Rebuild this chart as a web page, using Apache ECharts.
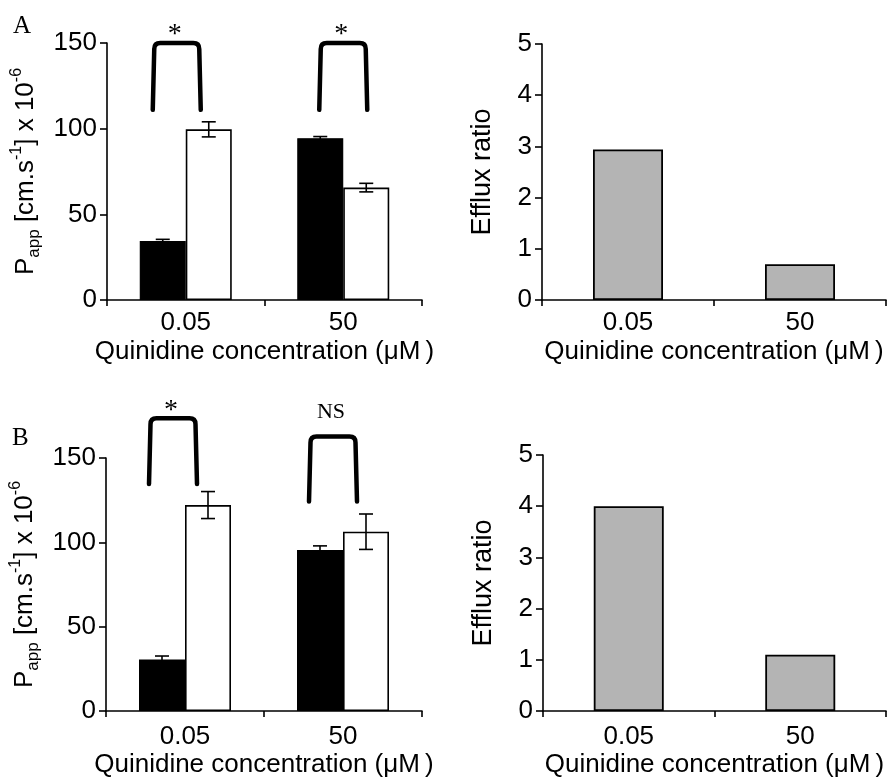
<!DOCTYPE html>
<html>
<head>
<meta charset="utf-8">
<script src="https://cdn.jsdelivr.net/npm/echarts@6/dist/echarts.min.js"></script>
<style>html,body{margin:0;padding:0;background:#fff;}#c{width:889px;height:779px;}</style>
</head>
<body>
<div id="c"></div>
<script>
// ---- data ----
var categories = ['0.05', '50'];
var panelA_black = [34.4, 94.4];
var panelA_blackErr = [1.0, 1.0];
var panelA_white = [99.6, 65.6];
var panelA_whiteErr = [4.4, 2.5];
var panelA_ratio = [2.94, 0.70];
var panelB_black = [30.6, 95.4];
var panelB_blackErr = [2.0, 2.5];
var panelB_white = [122.1, 106.3];
var panelB_whiteErr = [8.0, 10.5];
var panelB_ratio = [4.0, 1.1];
// significance brackets: [category index, lower level, upper level, label]
var panelA_brackets = [[0, 111, 150, '*'], [1, 111, 150, '*']];
var panelB_brackets = [[0, 134.6, 173.6, '*'], [1, 124.2, 162.7, 'NS']];
var pappTicks = {min: 0, max: 150, interval: 50};
var ratioTicks = {min: 0, max: 5, interval: 1};
var xName = 'Quinidine concentration (\u03BCM\u2009)';

// ---- style ----
var SANS = '"Liberation Sans", Arial, "Noto Sans CJK SC", sans-serif';
var SERIF = '"Liberation Serif", "Times New Roman", serif';
var BAR_W = 46, RATIO_W = 70;
var panelA_shift = [-9, 0];
var panelB_shift = [-12, -10];

function withIdx(vals, errs) {
  return vals.map(function (v, i) { return [i, v, errs[i]]; });
}

function errRender(offset) {
  return function (params, api) {
    var i = api.value(0), v = api.value(1), e = api.value(2);
    var hi = api.coord([i, v + e]);
    var lo = api.coord([i, v - e]);
    var x = hi[0] + offset, cw = 7;
    var st = {stroke: '#000', lineWidth: 1.6};
    return {type: 'group', children: [
      {type: 'line', shape: {x1: x, y1: hi[1], x2: x, y2: lo[1]}, style: st},
      {type: 'line', shape: {x1: x - cw, y1: hi[1], x2: x + cw, y2: hi[1]}, style: st},
      {type: 'line', shape: {x1: x - cw, y1: lo[1], x2: x + cw, y2: lo[1]}, style: st}
    ]};
  };
}

function bracketRender(items, shifts) {
  return function (params, api) {
    var i = api.value(0);
    var b = api.coord([i, api.value(1)]);
    var t = api.coord([i, api.value(2)]);
    var cx = b[0] + shifts[params.dataIndex];
    var hw = 24, r = 6;
    var x1 = cx - hw, x2 = cx + hw, yb = b[1], yt = t[1];
    var d = 'M' + x1 + ' ' + yb + ' L' + (x1 + 1.5) + ' ' + (yt + r) +
      ' Q' + (x1 + 1.5) + ' ' + yt + ' ' + (x1 + 1.5 + r) + ' ' + yt +
      ' L' + (x2 - 1.5 - r) + ' ' + yt +
      ' Q' + (x2 - 1.5) + ' ' + yt + ' ' + (x2 - 1.5) + ' ' + (yt + r) +
      ' L' + x2 + ' ' + yb;
    var label = items[params.dataIndex][3];
    var star = label === '*';
    return {type: 'group', children: [
      {type: 'path', shape: {pathData: d}, style: {fill: 'none', stroke: '#000', lineWidth: 4.5, lineCap: 'round', lineJoin: 'round'}},
      {type: 'text', x: cx - 2, y: yt - (star ? 8 : 24), style: {text: label, font: (star ? '28px ' : '22px ') + SERIF, fill: '#000', align: 'center', verticalAlign: 'middle'}}
    ]};
  };
}

var yNameRich = {
  m: {fontSize: 26, lineHeight: 34, fontFamily: SANS, color: '#000'},
  s: {fontSize: 17, lineHeight: 22, verticalAlign: 'bottom', fontFamily: SANS, color: '#000'},
  u: {fontSize: 16, lineHeight: 16, verticalAlign: 'top', fontFamily: SANS, color: '#000'}
};

function xAxisDef(grid, labelMargin, nameGap) {
  return {
    type: 'category', gridIndex: grid, data: categories,
    name: xName, nameLocation: 'middle', nameGap: nameGap,
    nameTextStyle: {fontSize: 26, fontFamily: SANS, color: '#000'},
    axisLine: {lineStyle: {color: '#000', width: 1.6}},
    axisTick: {show: true, length: 6, lineStyle: {color: '#000', width: 1.6}},
    axisLabel: {fontSize: 26, fontFamily: SANS, color: '#000', margin: labelMargin}
  };
}
function yAxisDef(grid, ticks, name, gap, rich) {
  return {
    type: 'value', gridIndex: grid, min: ticks.min, max: ticks.max, interval: ticks.interval,
    name: name, nameLocation: 'middle', nameGap: gap, nameRotate: 90,
    nameTextStyle: rich ? {rich: rich, fontSize: 26, fontFamily: SANS, color: '#000'} : {fontSize: 27, fontFamily: SANS, color: '#000'},
    splitLine: {show: false},
    axisLine: {show: true, lineStyle: {color: '#000', width: 1.6}},
    axisTick: {show: true, length: 7, lineStyle: {color: '#000', width: 1.6}},
    axisLabel: {fontSize: 26, fontFamily: SANS, color: '#000', margin: 10}
  };
}
var pappName = '{m|P}{s|app}{m| [cm.s}{u|-1}{m|] x 10}{u|-6}';

var option = {
  animation: false,
  backgroundColor: '#fff',
  grid: [
    {left: 107, top: 43, width: 315, height: 257},
    {left: 542, top: 44, width: 344, height: 256},
    {left: 106, top: 458, width: 316, height: 256},
    {left: 543, top: 455, width: 343, height: 258}
  ],
  xAxis: [xAxisDef(0, 10, 39), xAxisDef(1, 10, 39), xAxisDef(2, 13, 41), xAxisDef(3, 13, 41)],
  yAxis: [
    yAxisDef(0, pappTicks, pappName, 64, yNameRich),
    yAxisDef(1, ratioTicks, 'Efflux ratio', 46),
    yAxisDef(2, pappTicks, pappName, 64, yNameRich),
    yAxisDef(3, ratioTicks, 'Efflux ratio', 46)
  ],
  graphic: [
    {type: 'text', left: 13, top: 14, style: {text: 'A', font: '25px ' + SERIF, fill: '#000'}},
    {type: 'text', left: 12, top: 426, style: {text: 'B', font: '25px ' + SERIF, fill: '#000'}}
  ],
  series: [
    {type: 'bar', xAxisIndex: 0, yAxisIndex: 0, data: panelA_black, barWidth: BAR_W, barGap: '0%',
      itemStyle: {color: '#000', borderColor: '#000', borderWidth: 1.2}},
    {type: 'bar', xAxisIndex: 0, yAxisIndex: 0, data: panelA_white, barWidth: BAR_W, barGap: '0%',
      itemStyle: {color: '#fff', borderColor: '#000', borderWidth: 1.6}},
    {type: 'custom', xAxisIndex: 0, yAxisIndex: 0, data: withIdx(panelA_black, panelA_blackErr), renderItem: errRender(-BAR_W / 2), z: 5},
    {type: 'custom', xAxisIndex: 0, yAxisIndex: 0, data: withIdx(panelA_white, panelA_whiteErr), renderItem: errRender(BAR_W / 2), z: 5},
    {type: 'custom', xAxisIndex: 0, yAxisIndex: 0, data: panelA_brackets, renderItem: bracketRender(panelA_brackets, panelA_shift), clip: false, z: 5},
    {type: 'bar', xAxisIndex: 1, yAxisIndex: 1, data: panelA_ratio, barWidth: RATIO_W,
      itemStyle: {color: '#b4b4b4', borderColor: '#000', borderWidth: 1.8}},
    {type: 'bar', xAxisIndex: 2, yAxisIndex: 2, data: panelB_black, barWidth: BAR_W, barGap: '0%',
      itemStyle: {color: '#000', borderColor: '#000', borderWidth: 1.2}},
    {type: 'bar', xAxisIndex: 2, yAxisIndex: 2, data: panelB_white, barWidth: BAR_W, barGap: '0%',
      itemStyle: {color: '#fff', borderColor: '#000', borderWidth: 1.6}},
    {type: 'custom', xAxisIndex: 2, yAxisIndex: 2, data: withIdx(panelB_black, panelB_blackErr), renderItem: errRender(-BAR_W / 2), z: 5},
    {type: 'custom', xAxisIndex: 2, yAxisIndex: 2, data: withIdx(panelB_white, panelB_whiteErr), renderItem: errRender(BAR_W / 2), z: 5},
    {type: 'custom', xAxisIndex: 2, yAxisIndex: 2, data: panelB_brackets, renderItem: bracketRender(panelB_brackets, panelB_shift), clip: false, z: 5},
    {type: 'bar', xAxisIndex: 3, yAxisIndex: 3, data: panelB_ratio, barWidth: RATIO_W,
      itemStyle: {color: '#b4b4b4', borderColor: '#000', borderWidth: 1.8}}
  ]
};
var chart = echarts.init(document.getElementById('c'), null, {renderer: 'canvas'});
chart.setOption(option);
</script>
</body>
</html>
